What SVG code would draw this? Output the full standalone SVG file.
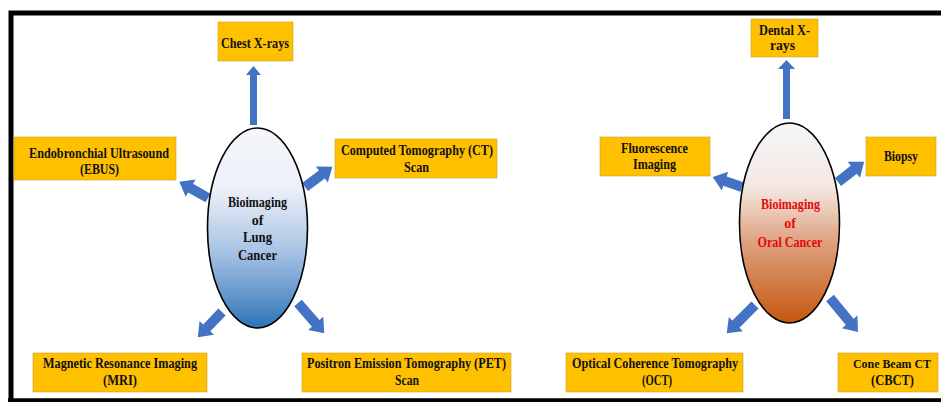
<svg xmlns="http://www.w3.org/2000/svg" width="941" height="402" viewBox="0 0 941 402">
<defs>
<style>
.box{fill:#FFC000;stroke:#c9a030;stroke-width:0.6}
.t{font-family:"Liberation Serif","Times New Roman",serif;font-weight:bold;font-size:15px;fill:#111;text-anchor:middle}
.e{font-family:"Liberation Serif","Times New Roman",serif;font-weight:bold;font-size:14px;fill:#111;text-anchor:middle}
.red{fill:#e30b0b}
.arr{fill:#4472C4}
.ell{stroke:#000;stroke-width:1.6}
</style>
<linearGradient id="gLung" x1="0" y1="0" x2="0" y2="1">
<stop offset="0" stop-color="#f4f6fa"/>
<stop offset="0.3" stop-color="#edf1f8"/>
<stop offset="0.62" stop-color="#a7c3e4"/>
<stop offset="1" stop-color="#2e73b8"/>
</linearGradient>
<linearGradient id="gOral" x1="0" y1="0" x2="0" y2="1">
<stop offset="0" stop-color="#f5f6f9"/>
<stop offset="0.32" stop-color="#f4e8e2"/>
<stop offset="0.6" stop-color="#dea07e"/>
<stop offset="1" stop-color="#c4570f"/>
</linearGradient>
</defs>
<rect width="941" height="402" fill="#fff"/>
<g id="frame">
<path d="M11,402 V13 H941" fill="none" stroke="#000" stroke-width="5"/>
<line x1="8" y1="400.3" x2="941" y2="400.3" stroke="#000" stroke-width="4"/>
</g>
<g id="connectors">
<rect class="arr" x="250" y="74" width="7" height="51"/>
<polygon class="arr" points="246,75 253.5,66 261,75"/>
<path class="arr" transform="translate(208,198) rotate(209.7)" d="M0,-5 H20 V-10 L33,0 L20,10 V5 H0 Z"/>
<path class="arr" transform="translate(305,187) rotate(-36.5)" d="M0,-5 H21 V-10 L34,0 L21,10 V5 H0 Z"/>
<path class="arr" transform="translate(222,312) rotate(133.8)" d="M0,-5 H22 V-10 L35,0 L22,10 V5 H0 Z"/>
<path class="arr" transform="translate(298,303) rotate(49)" d="M0,-5 H27 V-10 L40,0 L27,10 V5 H0 Z"/>
<rect class="arr" x="783" y="68" width="7" height="51"/>
<polygon class="arr" points="778,69 786.5,60 795,69"/>
<path class="arr" transform="translate(742,187) rotate(199)" d="M0,-5 H18 V-10 L31,0 L18,10 V5 H0 Z"/>
<path class="arr" transform="translate(838,182) rotate(-37.6)" d="M0,-5 H20 V-10 L33,0 L20,10 V5 H0 Z"/>
<path class="arr" transform="translate(755,305) rotate(135)" d="M0,-5 H27 V-10 L40,0 L27,10 V5 H0 Z"/>
<path class="arr" transform="translate(830,298) rotate(50.5)" d="M0,-5 H31 V-10 L44,0 L31,10 V5 H0 Z"/>
</g>
<g id="lung">
<ellipse class="ell" cx="257.5" cy="228" rx="50" ry="100" fill="url(#gLung)"/>
<text class="e" x="257.5" y="207" textLength="59" lengthAdjust="spacingAndGlyphs">Bioimaging</text>
<text class="e" x="257.5" y="224.5">of</text>
<text class="e" x="257.5" y="242" textLength="29" lengthAdjust="spacingAndGlyphs">Lung</text>
<text class="e" x="257.5" y="259.5" textLength="39" lengthAdjust="spacingAndGlyphs">Cancer</text>
</g>
<g id="oral">
<ellipse class="ell" cx="789.5" cy="223" rx="50" ry="100" fill="url(#gOral)"/>
<text class="e red" x="790.5" y="209" textLength="59" lengthAdjust="spacingAndGlyphs">Bioimaging</text>
<text class="e red" x="790" y="228">of</text>
<text class="e red" x="790" y="247" textLength="65" lengthAdjust="spacingAndGlyphs">Oral Cancer</text>
</g>
<g id="chest">
<rect class="box" x="218" y="22" width="75" height="39"/>
<text class="t" x="255" y="48" textLength="68" lengthAdjust="spacingAndGlyphs">Chest X-rays</text>
</g>
<g id="ebus">
<rect class="box" x="14" y="137" width="162" height="43"/>
<text class="t" x="99" y="158" textLength="140" lengthAdjust="spacingAndGlyphs">Endobronchial Ultrasound</text>
<text class="t" x="99.5" y="174" textLength="39" lengthAdjust="spacingAndGlyphs">(EBUS)</text>
</g>
<g id="ct">
<rect class="box" x="335" y="139" width="162" height="39"/>
<text class="t" x="417" y="155" textLength="152" lengthAdjust="spacingAndGlyphs">Computed Tomography (CT)</text>
<text class="t" x="416.5" y="172" textLength="25" lengthAdjust="spacingAndGlyphs">Scan</text>
</g>
<g id="mri">
<rect class="box" x="33" y="353" width="174" height="39"/>
<text class="t" x="120" y="368" textLength="154" lengthAdjust="spacingAndGlyphs">Magnetic Resonance Imaging</text>
<text class="t" x="120" y="385" textLength="34" lengthAdjust="spacingAndGlyphs">(MRI)</text>
</g>
<g id="pet">
<rect class="box" x="302" y="353" width="209" height="39"/>
<text class="t" x="406.5" y="368" textLength="199" lengthAdjust="spacingAndGlyphs">Positron Emission Tomography (PET)</text>
<text class="t" x="407" y="385" textLength="24" lengthAdjust="spacingAndGlyphs">Scan</text>
</g>
<g id="dental">
<rect class="box" x="751" y="19" width="67" height="38"/>
<text class="t" x="784.5" y="34.5" style="font-size:14px" textLength="51" lengthAdjust="spacingAndGlyphs">Dental X-</text>
<text class="t" x="782.5" y="50" style="font-size:14px" textLength="25" lengthAdjust="spacingAndGlyphs">rays</text>
</g>
<g id="fluorescence">
<rect class="box" x="600" y="137" width="110" height="39"/>
<text class="t" x="654.5" y="153" textLength="67" lengthAdjust="spacingAndGlyphs">Fluorescence</text>
<text class="t" x="654.5" y="169" textLength="43" lengthAdjust="spacingAndGlyphs">Imaging</text>
</g>
<g id="biopsy">
<rect class="box" x="866" y="137" width="70" height="39"/>
<text class="t" x="901" y="161" textLength="34" lengthAdjust="spacingAndGlyphs">Biopsy</text>
</g>
<g id="oct">
<rect class="box" x="566" y="353" width="177" height="39"/>
<text class="t" x="655" y="368" textLength="166" lengthAdjust="spacingAndGlyphs">Optical Coherence Tomography</text>
<text class="t" x="657" y="385" textLength="30" lengthAdjust="spacingAndGlyphs">(OCT)</text>
</g>
<g id="cbct">
<rect class="box" x="838" y="353" width="100" height="39"/>
<text class="t" x="892" y="368" style="font-size:13px" textLength="78" lengthAdjust="spacingAndGlyphs">Cone Beam CT</text>
<text class="t" x="892.5" y="385" textLength="43" lengthAdjust="spacingAndGlyphs">(CBCT)</text>
</g>
</svg>
